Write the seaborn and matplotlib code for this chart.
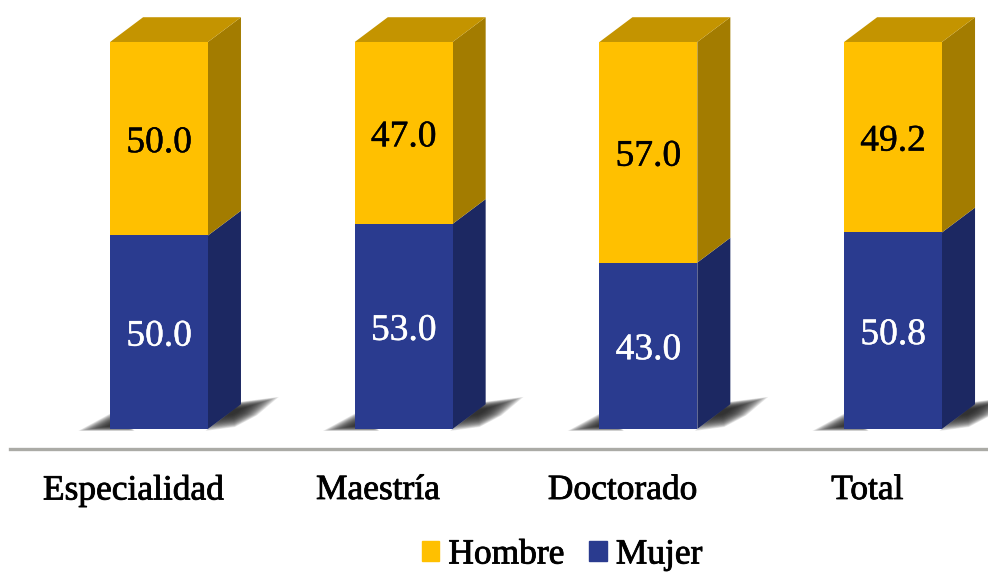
import matplotlib
matplotlib.use("Agg")
import matplotlib.pyplot as plt
import matplotlib.patheffects as pe
from matplotlib.patches import Polygon, Patch
import numpy as np
import seaborn as sns

categories = ["Especialidad", "Maestría", "Doctorado", "Total"]
mujer = [50.0, 53.0, 43.0, 50.8]
hombre = [50.0, 47.0, 57.0, 49.2]
labels_mujer = ["50.0", "53.0", "43.0", "50.8"]
labels_hombre = ["50.0", "47.0", "57.0", "49.2"]

YELLOW = "#FFC000"
YELLOW_TOP = "#C49400"
YELLOW_SIDE = "#A37C00"
BLUE = "#2A3B8F"
BLUE_SIDE = "#1C2862"
BAR_W = 0.4
# depth of the fake 3d box, in data units
DX = 0.135
DY = 6.4
# x tick labels sit left of the bars in the original
LABEL_SHIFT = -0.105

sns.set_theme(style="white")
plt.rcParams["font.family"] = ["Liberation Serif", "DejaVu Serif"]

fig = plt.figure(figsize=(9.88, 5.72), dpi=100)
ax = fig.add_axes([10 / 988, 123 / 572, 978 / 988, 449 / 572])

sns.barplot(x=categories, y=mujer, color=BLUE, saturation=1, width=BAR_W, ax=ax, zorder=3, linewidth=0)
sns.barplot(x=categories, y=hombre, bottom=mujer, color=YELLOW, saturation=1, width=BAR_W, ax=ax, zorder=3, linewidth=0)

ax.set_xlim(-0.609, 3.388)
ax.set_ylim(-5.17, 110.85)


def blur(pts, anchor, alpha):
    # soft shadow, stacked transparent polygons shrinking to the anchor
    pts = np.array(pts)
    anchor = np.array(anchor)
    for s in np.linspace(1.0, 0.2, 22):
        ax.add_patch(Polygon(anchor + (pts - anchor) * s, fc="#222222", ec="none", alpha=alpha, zorder=1))


def shadow(x0, x1):
    blur([[x0 - 0.13, -0.5], [x0 + 0.03, 5.0], [x0 + 0.1, -0.5]], [x0 + 0.02, 1.0], 0.09)
    blur([[x1 - 0.01, -0.5], [x1 + 0.11, 0.5], [x1 + 0.2, 3.5], [x1 + 0.29, 8.3], [x1 + 0.13, 7.0]],
         [x1 + 0.1, 4.5], 0.1)


def heavy(txt, width, color):
    # Liberation Serif is lighter than the original face
    txt.set_path_effects([pe.withStroke(linewidth=width, foreground=color)])


for i, (m, h) in enumerate(zip(mujer, hombre)):
    x0, x1 = i - BAR_W / 2, i + BAR_W / 2
    shadow(x0, x1)
    top = m + h
    ax.add_patch(Polygon([[x1, 0], [x1 + DX, DY], [x1 + DX, m + DY], [x1, m]], fc=BLUE_SIDE, ec="none", zorder=2))
    ax.add_patch(Polygon([[x1, m], [x1 + DX, m + DY], [x1 + DX, top + DY], [x1, top]], fc=YELLOW_SIDE, ec="none", zorder=2))
    ax.add_patch(Polygon([[x0, top], [x0 + DX, top + DY], [x1 + DX, top + DY], [x1, top]], fc=YELLOW_TOP, ec="none", zorder=2))
    t1 = ax.annotate(labels_mujer[i], (i, m / 2), xytext=(0, -3), textcoords="offset points", color="white",
                     ha="center", va="center", fontsize=27, zorder=5)
    t2 = ax.annotate(labels_hombre[i], (i, m + h / 2), xytext=(0, -3), textcoords="offset points", color="black",
                     ha="center", va="center", fontsize=27, zorder=5)
    heavy(t1, 0.3, "white")
    heavy(t2, 0.3, "black")

sns.despine(ax=ax, left=True, top=True, right=True)
ax.spines["bottom"].set_color("#ABABA6")
ax.spines["bottom"].set_linewidth(2.4)
ax.set_yticks([])
ax.set_xticks(np.arange(len(categories)) + LABEL_SHIFT, categories)
ax.tick_params(axis="x", length=0, pad=18, labelsize=25.5, labelcolor="black")
for t in ax.get_xticklabels():
    heavy(t, 0.6, "black")

handles = [Patch(color=YELLOW, label="Hombre"), Patch(color=BLUE, label="Mujer")]
leg = fig.legend(handles=handles, loc="center", bbox_to_anchor=(562 / 988, 17 / 572), ncols=2, frameon=False,
                 fontsize=25.5, handlelength=0.5, handleheight=0.5, handletextpad=0.25, columnspacing=0.7,
                 borderpad=0, labelcolor="black")
for t in leg.get_texts():
    heavy(t, 0.6, "black")

fig.savefig("out.png", dpi=100)
